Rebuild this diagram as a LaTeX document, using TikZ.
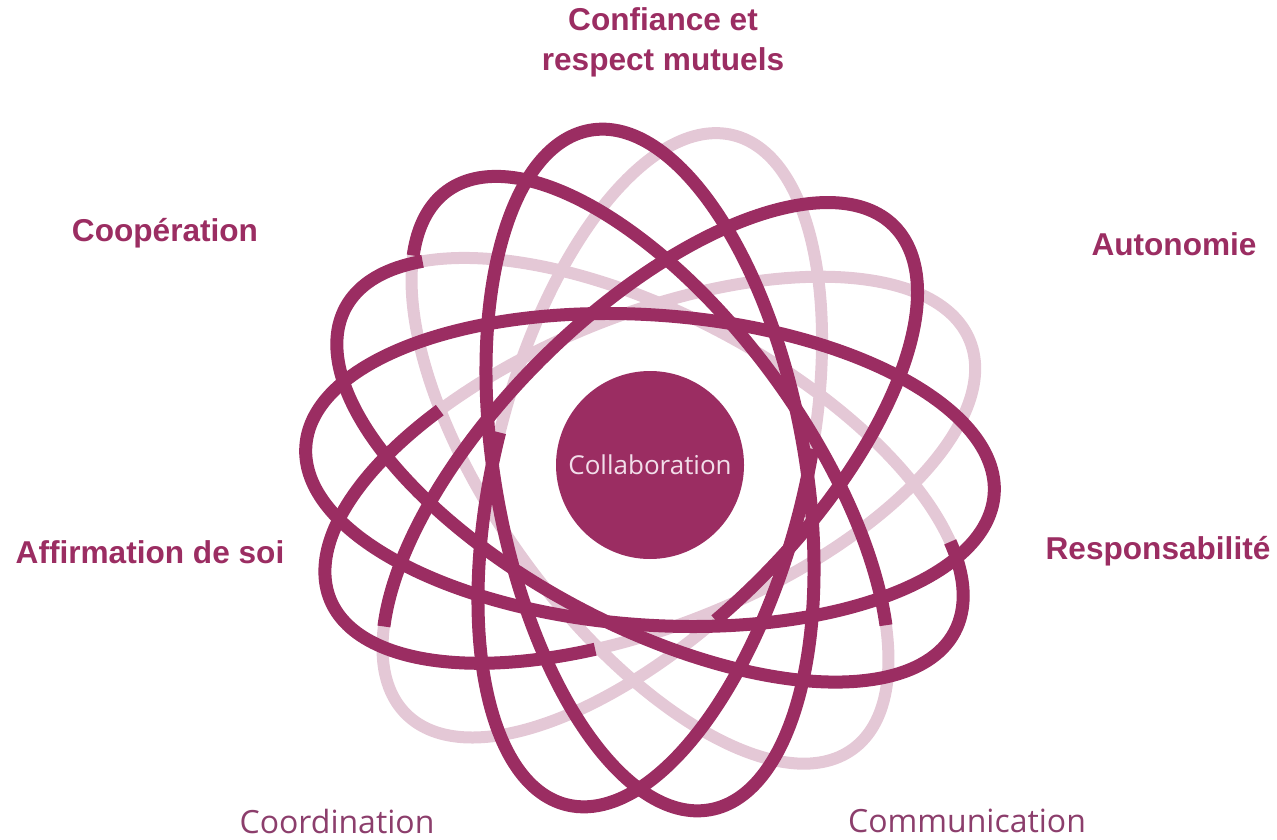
\documentclass[tikz,border=0pt]{standalone}
\usepackage{fontspec}
\setmainfont{Liberation Sans}
\newfontfamily\thinsans{Open Sans}

\definecolor{plum}{RGB}{155,45,98}
\definecolor{plumpale}{RGB}{228,200,214}
\definecolor{plumsoft}{RGB}{140,62,108}
\definecolor{blush}{RGB}{242,222,234}

\begin{document}
\begin{tikzpicture}[x=0.5pt,y=0.5pt]
\tikzstyle{every node}+=[inner sep=0pt]
\tikzstyle{pale}=[plumpale, line width=6pt]
\tikzstyle{deep}=[plum, line width=6.5pt]
\tikzstyle{bold label}=[text=plum, font=\fontsize{15.8}{20}\selectfont\bfseries, align=center]
\tikzstyle{soft label}=[text=plumsoft, font=\thinsans\fontsize{16}{19}\selectfont]
\useasboundingbox (0,0) rectangle (1277,-839);

% pale rings underneath
\draw [pale, shift={(650,-470)}, rotate=22] (0,0) ellipse (345 and 155);
\draw [pale, shift={(650,-470)}, rotate=45] (0,0) ellipse (345 and 155);
\draw [pale, shift={(650,-470)}, rotate=76] (0,0) ellipse (345 and 155);
\draw [pale, shift={(650,-470)}, rotate=126] (0,0) ellipse (345 and 155);
\draw [pale, shift={(650,-470)}, rotate=152] (0,0) ellipse (345 and 155);

% dark halves of the two-tone rings
\draw [deep, shift={(650,-470)}, rotate=22] (120:345 and 155) arc [start angle=120, end angle=250, x radius=345, y radius=155];
\draw [deep, shift={(650,-470)}, rotate=45] (-100:345 and 155) arc [start angle=-100, end angle=150, x radius=345, y radius=155];
\draw [deep, shift={(650,-470)}, rotate=76] (90:345 and 155) arc [start angle=90, end angle=280, x radius=345, y radius=155];
\draw [deep, shift={(650,-470)}, rotate=126] (-140:345 and 155) arc [start angle=-140, end angle=25, x radius=345, y radius=155];
\draw [deep, shift={(650,-470)}, rotate=152] (-30:345 and 155) arc [start angle=-30, end angle=210, x radius=345, y radius=155];

% the two full dark rings
\draw [deep, shift={(650,-470)}, rotate=-4] (0,0) ellipse (345 and 155);
\draw [deep, shift={(650,-470)}, rotate=100] (0,0) ellipse (345 and 155);

% core
\node (core) at (650,-465) [circle, fill=plum, minimum size=94pt, text=blush, font=\thinsans\fontsize{13}{15}\selectfont] {Collaboration};

% values round the core
\node (confiance) at (663,-42) [bold label] {Confiance et\\respect mutuels};
\node (cooperation) at (165,-233) [bold label] {Coopération};
\node (autonomie) at (1174,-244) [bold label] {Autonomie};
\node (affirmation) at (150,-552) [bold label] {Affirmation de soi};
\node (responsabilite) at (1158,-551) [bold label] {Responsabilité};
\node (coordination) at (337,-821) [soft label] {Coordination};
\node (communication) at (967,-821) [soft label] {Communication};
\end{tikzpicture}
\end{document}
